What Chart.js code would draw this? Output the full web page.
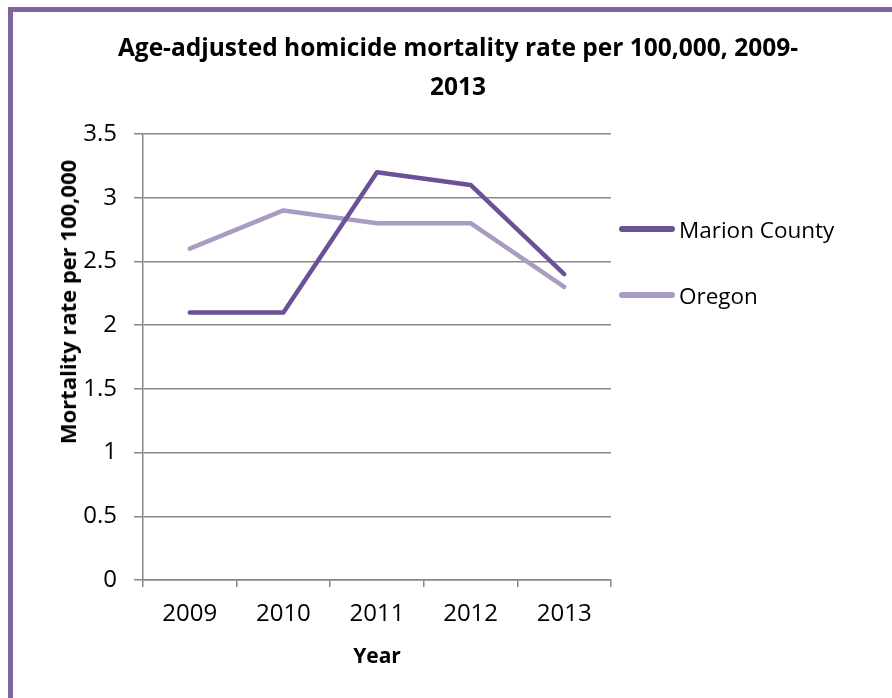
<!DOCTYPE html>
<html>
<head>
<meta charset="utf-8">
<script src="https://cdn.jsdelivr.net/npm/chart.js@4/dist/chart.umd.min.js"></script>
<style>
  html,body{margin:0;padding:0;background:#fff}
  #wrap{position:relative;width:892px;height:698px;overflow:hidden;font-family:"Open Sans",sans-serif;color:#000}
  #frame{position:absolute;left:8px;top:7px;width:900px;height:700px;border-left:5px solid #8064a2;border-top:5px solid #8064a2}
  #chartBox{position:absolute;left:0;top:0;width:892px;height:698px}
  .ttl{position:absolute;left:0;width:916px;text-align:center;font-weight:700;font-size:24.5px;line-height:25px;white-space:nowrap}
  #yTitle{position:absolute;left:67px;top:302px;transform:translate(-50%,-50%) rotate(-90deg);
    font-weight:700;font-size:22px;line-height:22px;white-space:nowrap}
  .lg{position:absolute;left:619px;height:30px;display:flex;align-items:center;font-size:22.5px;white-space:nowrap}
  .lg i{display:inline-block;width:56px;height:6px;border-radius:3px;margin-right:4px}
</style>
</head>
<body>
<div id="wrap">
  <div id="frame"></div>
  <div id="chartBox"><canvas id="cv"></canvas></div>
  <div class="ttl" id="t1" style="top:34px"></div>
  <div class="ttl" id="t2" style="top:73px"></div>
  <div id="yTitle"></div>
  <div id="legend"></div>
</div>
<script>
// homicide mortality, age-adjusted, per 100,000
const titleLines = ["Age-adjusted homicide mortality rate per 100,000, 2009-", "2013"];
const years = ["2009", "2010", "2011", "2012", "2013"];
const marionCounty = [2.1, 2.1, 3.2, 3.1, 2.4];
const oregon = [2.6, 2.9, 2.8, 2.8, 2.3];
const seriesNames = ["Marion County", "Oregon"];
const seriesColors = ["#6b5195", "#a99bc2"];
const yTicks = { min: 0, max: 3.5, step: 0.5 };
const xTitle = "Year";
const yTitle = "Mortality rate per 100,000";

document.getElementById("t1").textContent = titleLines[0];
document.getElementById("t2").textContent = titleLines[1];
document.getElementById("yTitle").textContent = yTitle;

// legend on the right, drawn as plain html
const legendTops = [214, 280];
document.getElementById("legend").innerHTML = seriesNames.map((n, i) =>
  `<div class="lg" style="top:${legendTops[i]}px"><i style="background:${seriesColors[i]}"></i>${n}</div>`).join("");

const GRID = "#878787";
const tickFont = { family: "'Open Sans', sans-serif", size: 24 };

new Chart(document.getElementById("cv"), {
  type: "line",
  data: {
    labels: years,
    datasets: [marionCounty, oregon].map((d, i) => ({
      label: seriesNames[i],
      data: d,
      borderColor: seriesColors[i],
      backgroundColor: seriesColors[i],
      borderWidth: 4.5,
      borderJoinStyle: "round",
      borderCapStyle: "round",
      pointRadius: 0,
      tension: 0,
    })),
  },
  options: {
    responsive: true, maintainAspectRatio: false, animation: false,
    layout: { padding: { left: 13, right: 281, top: 134, bottom: 18 } },
    plugins: { legend: { display: false }, title: { display: false }, tooltip: { enabled: false } },
    scales: {
      x: {
        offset: true,
        grid: { offset: true, drawOnChartArea: false, drawTicks: true, tickLength: 7, color: GRID, lineWidth: 1.5 },
        border: { color: GRID, width: 1.5 },
        ticks: { color: "#000", font: tickFont, padding: 13, maxRotation: 0 },
        title: { display: true, text: xTitle, color: "#000",
                 font: { family: "'Open Sans', sans-serif", size: 21, weight: "bold" },
                 padding: { top: 0, bottom: 10 } },
        afterFit(s) { s.height = 100; },
      },
      y: {
        min: yTicks.min, max: yTicks.max,
        grid: { color: GRID, lineWidth: 1.5, tickLength: 9 },
        border: { color: GRID, width: 1.5 },
        ticks: { stepSize: yTicks.step, color: "#000", font: tickFont, padding: 17,
                 callback: v => String(v) },
        afterFit(s) { s.width = 130; },
      },
    },
  },
});
</script>
</body>
</html>
